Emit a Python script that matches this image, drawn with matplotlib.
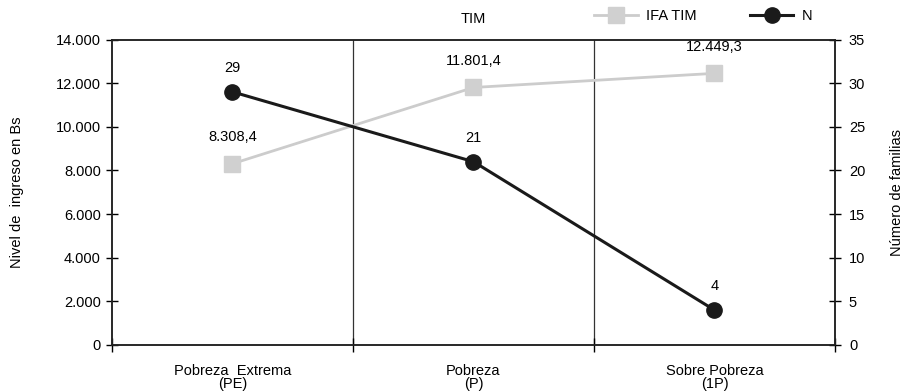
import matplotlib
matplotlib.use("Agg")
import matplotlib.pyplot as plt
from matplotlib import font_manager
from matplotlib.ticker import FuncFormatter

categories = ["Pobreza  Extrema\n(PE)", "Pobreza\n(P)", "Sobre Pobreza\n(1P)"]
ifa_tim = [8308.4, 11801.4, 12449.3]
n_fam = [29, 21, 4]
left_ticks = [0, 2000, 4000, 6000, 8000, 10000, 12000, 14000]
right_ticks = [0, 5, 10, 15, 20, 25, 30, 35]

names = {f.name for f in font_manager.fontManager.ttflist}
fam = "Liberation Sans Narrow" if "Liberation Sans Narrow" in names else "Liberation Sans"
plt.rcParams['font.family'] = [fam, 'DejaVu Sans']
plt.rcParams['font.size'] = 10.5

def es(v, dec=0):
    s = f"{v:,.{dec}f}"
    return s.replace(",", "X").replace(".", ",").replace("X", ".")

fig = plt.figure(figsize=(9.06, 3.92), dpi=100)
ax = fig.add_axes([112/906, 1-345/392, (835-112)/906, (345-39.5)/392])
ax2 = ax.twinx()

x = [i + 0.5 for i in range(len(categories))]
grey = "#cccccc"
l1, = ax.plot(x, ifa_tim, color=grey, lw=2, marker="s", ms=11.5,
              mfc="#d0d0d0", mec="#d0d0d0", label="IFA TIM", zorder=3)
l2, = ax2.plot(x, n_fam, color="#1a1a1a", lw=2.2, marker="o", ms=11,
               mfc="#1a1a1a", mec="#1a1a1a", label="N", zorder=4)

ax.set_xlim(0, 3)
ax.set_ylim(0, 14000)
ax2.set_ylim(0, 35)
ax.set_yticks(left_ticks)
ax.yaxis.set_major_formatter(FuncFormatter(lambda v, p: es(v)))
ax2.set_yticks(right_ticks)

ax.set_xticks([0, 1, 2, 3])
ax.set_xticklabels([])
ax.set_xticks(x, minor=True)
ax.set_xticklabels(categories, minor=True, linespacing=0.85)
ax.tick_params(axis="x", which="minor", length=0, pad=14)
ax.tick_params(axis="x", which="major", direction="inout", length=10, width=1)
ax.tick_params(axis="y", direction="inout", length=8, width=1, pad=4)
ax2.tick_params(axis="y", direction="inout", length=8, width=1, pad=6)

for xv in [1, 2]:
    ax.axvline(xv, color="#333333", lw=0.9, zorder=1)

for sp in list(ax.spines.values()) + list(ax2.spines.values()):
    sp.set_color("#222222")
    sp.set_linewidth(1.1)

for xi, v in zip(x, ifa_tim):
    ax.annotate(es(v, 1), (xi, v), xytext=(0, 14), textcoords="offset points",
                ha="center", va="bottom")
for xi, v in zip(x, n_fam):
    ax2.annotate(str(v), (xi, v), xytext=(0, 12), textcoords="offset points",
                 ha="center", va="bottom")

ax.set_ylabel("Nivel de  ingreso en Bs", labelpad=23)
ax2.set_ylabel("Número de familias", labelpad=18)

fig.text(473/906, 1-19/392, "TIM", ha="center", va="center")
fig.legend(handles=[l1, l2], loc="center left", bbox_to_anchor=(594/906, 1-16/392),
           ncol=2, frameon=False, handlelength=3.0, handletextpad=0.6,
           columnspacing=3.6, borderaxespad=0, borderpad=0)

fig.savefig("out.png", dpi=100)
